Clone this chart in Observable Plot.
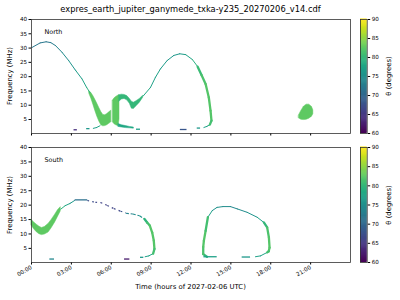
<!DOCTYPE html>
<html><head><meta charset="utf-8">
<script src="https://cdn.jsdelivr.net/npm/d3@7"></script>
<script src="https://cdn.jsdelivr.net/npm/@observablehq/plot@0.6"></script>
<style>
body{margin:0;background:#fff;}
#fig{position:relative;width:400px;height:300px;font-family:"DejaVu Sans",sans-serif;color:#000;overflow:hidden;background:#fff}
.abs{position:absolute;white-space:nowrap;line-height:1}
svg{position:absolute}
</style></head><body><div id="fig"></div>
<script>
// ---------- ticks / labels ----------
const title = "expres_earth_jupiter_ganymede_txka-y235_20270206_v14.cdf";
const xLabel = "Time (hours of 2027-02-06 UTC)";
const yLabel = "Frequency (MHz)";
const cLabel = "θ (degrees)";
const hourTicks = [0, 3, 6, 9, 12, 15, 18, 21];
const hourLabels = ["00:00", "03:00", "06:00", "09:00", "12:00", "15:00", "18:00", "21:00"];
const freqTicks = [5, 10, 15, 20, 25, 30, 35, 40];
const thetaTicks = [60, 65, 70, 75, 80, 85, 90];
const timeDomain = [0, 24];
const freqDomain = [0.1, 40];
const thetaDomain = [60, 90];

// ---------- NORTH: thin traces [t(h), f(MHz), theta(deg)] ----------
const northArc = [[0,30.1,72],[0.3,30.9,72],[0.65,31.8,72],[1.1,32.2,72],[1.45,31.9,72],[1.8,30.9,73],[2.3,28.5,74],[2.8,25.6,75],[3.3,22.3,76],[3.8,19.2,77],[4.15,16.2,78],[4.4,14.4,80]];
const northWedgeTail = [[4.65,1.9,77],[4.9,2.2,77],[5.15,2.8,78]];
const northRise = [[8.4,13.2,79],[8.95,16.2,77],[9.33,19.8,77],[9.7,22.7,77],[10.2,25.6,76],[10.7,27.4,76],[11.15,28.0,76],[11.6,27.7,77],[12.1,26.0,78],[12.5,23.5,80]];
const northFallTail = [[13.42,3.2,78],[13.2,2.6,77],[12.97,2.2,77]];
// thick traces
const northFall = [[12.5,23.5,80],[12.8,20.5,81],[13.1,17.4,82],[13.34,12.7,82],[13.47,8.1,82],[13.54,4.6,82],[13.42,3.2,80]];
// bands [t, fLow, fHigh]
const northWedge1 = [[4.35,14.0,14.9],[4.5,12.3,14.3],[4.65,10.2,13.2],[4.8,8.0,11.9],[4.95,6.0,10.5],[5.1,4.3,9.0],[5.25,3.0,7.6],[5.4,2.6,6.6],[5.55,2.7,6.5],[5.7,3.0,6.9],[5.85,3.5,7.5],[6.0,4.0,8.1]];
const northCBody = [[6.12,4.0,11.6],[6.25,3.3,12.4],[6.4,2.9,13.0],[6.55,2.7,13.4],[6.62,5.0,13.5]];
const northCArm = [[6.6,11.2,13.5],[6.8,12.0,13.7],[7.0,12.2,13.6],[7.2,11.7,13.2],[7.4,10.5,12.2],[7.55,8.8,11.2],[7.7,8.7,10.9],[7.9,9.6,11.4],[8.15,10.9,12.2],[8.4,12.6,13.3]];
const northCLower = [[6.55,2.4,3.4],[6.8,2.2,3.0],[7.1,2.0,2.7],[7.4,1.9,2.4],[7.7,1.8,2.2]];
const northBlob = [[20.12,5.4,6.4],[20.3,4.9,8.0],[20.5,4.8,9.5],[20.7,4.9,10.2],[20.9,5.3,10.2],[21.1,6.0,9.4],[21.2,6.8,8.2]];
const northBandTheta = [82.5, 82.5, 80, 78, 82.5];
// short dashes [t1, t2, f, theta]
const northDashes = [[3.2,3.45,1.4,64],[4.15,4.4,1.8,76],[7.9,8.2,1.6,77],[11.2,11.7,1.5,68],[12.47,12.72,2.0,76]];

// ---------- SOUTH ----------
const southRiseThin = [[2.2,18.6,80],[2.53,19.8,78],[2.9,20.6,77],[3.24,21.6,75]];
const southFlat = [[3.28,21.8,71],[4.16,21.8,71]];
const southDotted = [[4.2,21.6,67],[4.8,21.0,67],[5.2,20.9,66],[5.7,19.9,66],[6.2,18.8,66],[6.7,17.9,67],[7.1,17.3,68]];
const southDashed = [[7.1,17.2,73],[7.62,16.9,74],[8.13,16.3,75],[8.5,15.2,76]];
const southCurl = [[9.15,3.2,78],[8.83,2.4,77],[8.55,2.1,77]];
const southLoopTop = [[13.27,15.8,78],[13.6,18.1,76],[13.95,19.2,75],[14.4,19.5,75],[14.97,19.5,74],[15.48,18.7,74],[16.23,17.5,75],[16.98,15.8,76],[17.48,14.0,78]];
const southLoopBottom = [[17.73,3.6,78],[17.23,2.4,77],[16.85,2.1,77]];
// thick
const southFall = [[8.5,15.2,79],[8.7,14.0,80],[8.9,12.9,82],[9.08,10.5,82],[9.2,7.7,82],[9.25,4.8,82],[9.15,3.2,80]];
const southLoopLeft = [[13.2,2.1,79],[12.92,3.0,81],[12.92,5.5,82],[12.97,7.7,82],[13.1,11.1,82],[13.27,15.8,80]];
const southLoopRight = [[17.48,14.0,79],[17.73,12.3,81],[17.86,8.8,82],[17.91,5.3,82],[17.85,4.0,82],[17.73,3.6,80]];
// band
const southBand = [[0,12.9,14.9],[0.2,11.6,14.0],[0.4,10.6,13.2],[0.6,9.9,12.5],[0.78,9.6,12.1],[1.0,9.8,12.4],[1.28,10.5,13.5],[1.5,11.9,14.8],[1.78,14.0,16.7],[2.0,16.0,18.3],[2.2,17.8,19.3]];
const southBandTheta = [82.5];
const southDashes = [[1.38,1.73,1.3,74],[7.0,7.4,1.3,62],[8.2,8.45,1.9,76],[12.97,13.97,2.1,77],[15.85,16.48,2.0,76]];

// ---------- helpers ----------
const colorOpts = {type: "linear", scheme: "viridis", domain: thetaDomain};
function toLinks(trace) {
  const out = [];
  for (let i = 1; i < trace.length; i++) {
    const a = trace[i - 1], b = trace[i];
    out.push({x1: a[0], y1: a[1], x2: b[0], y2: b[1], theta: (a[2] + b[2]) / 2});
  }
  return out;
}
function linkMark(traces, extra) {
  return Plot.link(traces.flatMap(toLinks), Object.assign({x1: "x1", y1: "y1", x2: "x2", y2: "y2", stroke: "theta", strokeLinecap: "round"}, extra));
}
function bandMarks(bands, thetas) {
  return bands.map((b, i) => Plot.areaY(b, {x: d => d[0], y1: d => d[1], y2: d => d[2], fill: () => thetas[i], stroke: () => thetas[i], strokeWidth: 0.5, z: null}));
}
function dashMark(dashes) {
  return Plot.ruleY(dashes, {x1: d => d[0], x2: d => d[1], y: d => d[2], stroke: d => d[3], strokeWidth: 1.3});
}
const fontStyle = {fontFamily: "DejaVu Sans", fontSize: "5.6px", background: "transparent", overflow: "visible", color: "#000"};

function panel({marks, mt, mb, height, showLabels, name}) {
  return Plot.plot({
    width: 355, height, marginLeft: 31, marginRight: 5, marginTop: mt, marginBottom: mb,
    style: fontStyle,
    x: {domain: timeDomain, ticks: hourTicks, tickSize: 2.5, tickPadding: 2, label: null,
        tickFormat: showLabels ? (d => hourLabels[hourTicks.indexOf(d)]) : (() => ""),
        tickRotate: showLabels ? -30 : 0},
    y: {domain: freqDomain, ticks: freqTicks, tickSize: 2.5, tickPadding: 2, label: null},
    color: colorOpts,
    marks: [
      ...marks,
      Plot.frame({stroke: "#333", strokeWidth: 0.8}),
      Plot.text([name], {frameAnchor: "top-left", dx: 13, dy: 10, fontSize: 6.4, text: d => d})
    ]
  });
}
function colorbar({mt, mb, height}) {
  const steps = d3.range(thetaDomain[0], thetaDomain[1], 0.25);
  return Plot.plot({
    width: 50, height, marginLeft: 10, marginRight: 33.3, marginTop: mt, marginBottom: mb,
    style: fontStyle,
    x: {domain: [0, 1], axis: null},
    y: {domain: thetaDomain, axis: "right", ticks: thetaTicks, tickSize: 2.5, tickPadding: 2, label: null},
    color: colorOpts,
    marks: [
      Plot.rect(steps, {x1: 0, x2: 1, y1: d => d, y2: d => d + 0.4, fill: d => d + 0.125}),
      Plot.frame({stroke: "#333", strokeWidth: 0.8})
    ]
  });
}

const fig = document.getElementById("fig");
function place(el, left, top) { el.style.left = left + "px"; el.style.top = top + "px"; fig.appendChild(el); }
function text(str, css) { const d = document.createElement("div"); d.className = "abs"; d.textContent = str; Object.assign(d.style, css); fig.appendChild(d); return d; }

const north = panel({
  name: "North", mt: 19, mb: 12, height: 145, showLabels: false,
  marks: [
    ...bandMarks([northWedge1, northCBody, northCArm, northCLower, northBlob], northBandTheta),
    linkMark([northArc, northWedgeTail, northRise, northFallTail], {strokeWidth: 1.0}),
    linkMark([northFall], {strokeWidth: 2.3}),
    dashMark(northDashes)
  ]
});
place(north, 0, 0);
place(colorbar({mt: 19, mb: 12, height: 145}), 350, 0);

const south = panel({
  name: "South", mt: 7, mb: 30, height: 152, showLabels: true,
  marks: [
    ...bandMarks([southBand], southBandTheta),
    linkMark([southRiseThin, southCurl, southLoopTop, southLoopBottom], {strokeWidth: 1.0}),
    linkMark([southFlat], {strokeWidth: 1.3}),
    linkMark([southDotted], {strokeWidth: 1.2, strokeDasharray: "1.8,3.2", strokeLinecap: "butt"}),
    linkMark([southDashed], {strokeWidth: 1.1, strokeDasharray: "3,1.8", strokeLinecap: "butt"}),
    linkMark([southFall, southLoopLeft, southLoopRight], {strokeWidth: 2.3}),
    dashMark(southDashes)
  ]
});
place(south, 0, 140);
place(colorbar({mt: 7, mb: 30, height: 152}), 350, 140);

// texts
text(title, {left: "31px", width: "319px", top: "5px", textAlign: "center", fontSize: "8.3px"});
text(xLabel, {left: "31px", width: "319px", top: "284px", textAlign: "center", fontSize: "6.9px"});
for (const cy of [76, 204.5]) {
  const y = text(yLabel, {fontSize: "6.9px"});
  y.style.left = "10px"; y.style.top = cy + "px";
  y.style.transform = "translate(-50%,-50%) rotate(-90deg)";
  const c = text(cLabel, {fontSize: "6.9px"});
  c.style.left = "389px"; c.style.top = cy + "px";
  c.style.transform = "translate(-50%,-50%) rotate(-90deg)";
}
</script></body></html>
